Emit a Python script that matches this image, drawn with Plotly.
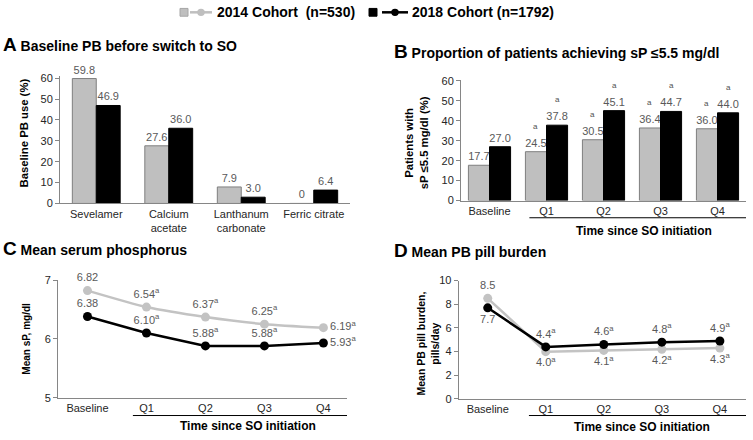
import plotly.graph_objects as go

# ---------------- data ----------------
cohorts = ["2014 Cohort  (n=530)", "2018 Cohort (n=1792)"]

a_categories = ["Sevelamer", "Calcium<br>acetate", "Lanthanum<br>carbonate", "Ferric citrate"]
a_2014 = [59.8, 27.6, 7.9, 0]
a_2018 = [46.9, 36.0, 3.0, 6.4]
a_labels_2014 = ["59.8", "27.6", "7.9", "0"]
a_labels_2018 = ["46.9", "36.0", "3.0", "6.4"]

time_categories = ["Baseline", "Q1", "Q2", "Q3", "Q4"]
b_2014 = [17.7, 24.5, 30.5, 36.4, 36.0]
b_2018 = [27.0, 37.8, 45.1, 44.7, 44.0]
b_sig_2014 = [False, True, True, True, True]
b_sig_2018 = [False, True, True, True, True]

c_2014 = [6.82, 6.54, 6.37, 6.25, 6.19]
c_2018 = [6.38, 6.10, 5.88, 5.88, 5.93]
c_sig = [False, True, True, True, True]

d_2014 = [8.5, 4.0, 4.1, 4.2, 4.3]
d_2018 = [7.7, 4.4, 4.6, 4.8, 4.9]
d_sig = [False, True, True, True, True]

# ---------------- style ----------------
FONT = "Liberation Sans, Arial, sans-serif"
GRAY = "#bfbfbf"
GRAY_EDGE = "#7f7f7f"
LINE_GRAY = "#c3c3c3"
LBL = "#595959"
AX = "#868686"
W, H = 753, 440


def px_x(v):
    return v / W


def px_y(v):
    return 1 - v / H


def line_text(vals, sig, fmt):
    return [fmt.format(v) + ("<sup>a</sup>" if s else "") for v, s in zip(vals, sig)]


fig = go.Figure()

# Panel A bars
fig.add_trace(go.Bar(x=a_categories, y=a_2014, xaxis="x", yaxis="y",
                     marker=dict(color=GRAY, line=dict(color=GRAY_EDGE, width=1)),
                     width=0.33, offset=-0.33, text=a_labels_2014, textposition="outside",
                     constraintext="none",
                     textfont=dict(color=LBL, size=11, family=FONT), cliponaxis=False,
                     name=cohorts[0], showlegend=False))
fig.add_trace(go.Bar(x=a_categories, y=a_2018, xaxis="x", yaxis="y",
                     marker=dict(color="#000000", line=dict(color="#000000", width=1)),
                     width=0.33, offset=0.0, text=a_labels_2018, textposition="outside",
                     constraintext="none",
                     textfont=dict(color=LBL, size=11, family=FONT), cliponaxis=False,
                     name=cohorts[1], showlegend=False))

# Panel B bars
B_W = 0.37
fig.add_trace(go.Bar(x=time_categories, y=b_2014, xaxis="x2", yaxis="y2",
                     marker=dict(color=GRAY, line=dict(color=GRAY_EDGE, width=1)),
                     width=B_W, offset=-B_W, text=[f"{v:.1f}" for v in b_2014],
                     textposition="outside", constraintext="none",
                     textfont=dict(color=LBL, size=11, family=FONT),
                     cliponaxis=False, name=cohorts[0], showlegend=False))
fig.add_trace(go.Bar(x=time_categories, y=b_2018, xaxis="x2", yaxis="y2",
                     marker=dict(color="#000000", line=dict(color="#000000", width=1)),
                     width=B_W, offset=0.0, text=[f"{v:.1f}" for v in b_2018],
                     textposition="outside", constraintext="none",
                     textfont=dict(color=LBL, size=11, family=FONT),
                     cliponaxis=False, name=cohorts[1], showlegend=False))

# Panel C lines
fig.add_trace(go.Scatter(x=time_categories, y=c_2014, xaxis="x3", yaxis="y3",
                         mode="lines+markers+text",
                         line=dict(color=LINE_GRAY, width=2.5, shape="spline", smoothing=0.6),
                         marker=dict(color=LINE_GRAY, size=9),
                         text=line_text(c_2014, c_sig, "{:.2f}"),
                         textposition=["top center"] * 4 + ["middle right"],
                         textfont=dict(color=LBL, size=11, family=FONT), cliponaxis=False,
                         name=cohorts[0], showlegend=False))
fig.add_trace(go.Scatter(x=time_categories, y=c_2018, xaxis="x3", yaxis="y3",
                         mode="lines+markers+text",
                         line=dict(color="#000000", width=2.5),
                         marker=dict(color="#000000", size=9),
                         text=line_text(c_2018, c_sig, "{:.2f}"),
                         textposition=["top center"] * 4 + ["middle right"],
                         textfont=dict(color=LBL, size=11, family=FONT), cliponaxis=False,
                         name=cohorts[1], showlegend=False))

# Panel D lines
fig.add_trace(go.Scatter(x=time_categories, y=d_2014, xaxis="x4", yaxis="y4",
                         mode="lines+markers+text",
                         line=dict(color=LINE_GRAY, width=2.5),
                         marker=dict(color=LINE_GRAY, size=9),
                         text=line_text(d_2014, d_sig, "{:.1f}"),
                         textposition=["top center"] + ["bottom center"] * 4,
                         textfont=dict(color=LBL, size=11, family=FONT), cliponaxis=False,
                         name=cohorts[0], showlegend=False))
fig.add_trace(go.Scatter(x=time_categories, y=d_2018, xaxis="x4", yaxis="y4",
                         mode="lines+markers+text",
                         line=dict(color="#000000", width=2.5),
                         marker=dict(color="#000000", size=9),
                         text=line_text(d_2018, d_sig, "{:.1f}"),
                         textposition=["bottom center"] + ["top center"] * 4,
                         textfont=dict(color=LBL, size=11, family=FONT), cliponaxis=False,
                         name=cohorts[1], showlegend=False))

tickfont = dict(family=FONT, size=11, color="#262626")
xcommon = dict(type="category", showgrid=False, zeroline=False, showline=True, linecolor=AX,
               linewidth=1, ticks="", tickfont=tickfont, fixedrange=True)
ycommon = dict(showgrid=False, zeroline=False, showline=True, linecolor=AX, linewidth=1,
               ticks="outside", ticklen=4, tickcolor=AX, tickfont=tickfont, fixedrange=True)

fig.update_layout(
    width=W, height=H, autosize=False,
    margin=dict(l=0, r=0, t=0, b=0),
    paper_bgcolor="white", plot_bgcolor="white",
    barmode="overlay",
    showlegend=False,
    font=dict(family=FONT, color="#262626"),
    xaxis=dict(xcommon, domain=[px_x(60), px_x(350)], anchor="y",
               categoryorder="array", categoryarray=a_categories, range=[-0.5, 3.5]),
    yaxis=dict(ycommon, domain=[px_y(203), px_y(72)], anchor="x", range=[0, 61],
               tickvals=[0, 10, 20, 30, 40, 50, 60]),
    xaxis2=dict(xcommon, domain=[px_x(461), px_x(746)], anchor="y2",
                categoryorder="array", categoryarray=time_categories, range=[-0.5, 4.5]),
    yaxis2=dict(ycommon, domain=[px_y(200), px_y(76)], anchor="x2", range=[0, 60.5],
                tickvals=[0, 10, 20, 30, 40, 50, 60]),
    xaxis3=dict(xcommon, domain=[px_x(58), px_x(347)], anchor="y3",
                categoryorder="array", categoryarray=time_categories, range=[-0.5, 4.4]),
    yaxis3=dict(ycommon, domain=[px_y(402.7), px_y(281.7)], anchor="x3", range=[5, 7],
                tickvals=[5, 6, 7]),
    xaxis4=dict(xcommon, domain=[px_x(458.7), px_x(746)], anchor="y4",
                categoryorder="array", categoryarray=time_categories, range=[-0.5, 4.45]),
    yaxis4=dict(ycommon, domain=[px_y(404), px_y(282.3)], anchor="x4", range=[0, 10],
                tickvals=[0, 2, 4, 6, 8, 10]),
)

ann = []
shapes = []

# significance marks above panel B labels, anchored on the bar values
B_SHIFT = B_W / 2 * (285 / 5)  # half bar width in px
for cat, v, s in zip(time_categories, b_2014, b_sig_2014):
    if s:
        ann.append(dict(xref="x2", yref="y2", x=cat, y=v, xshift=-B_SHIFT, yshift=19,
                        yanchor="bottom", showarrow=False, text="a",
                        font=dict(family=FONT, size=8, color="#505050")))
for cat, v, s in zip(time_categories, b_2018, b_sig_2018):
    if s:
        ann.append(dict(xref="x2", yref="y2", x=cat, y=v, xshift=B_SHIFT, yshift=19,
                        yanchor="bottom", showarrow=False, text="a",
                        font=dict(family=FONT, size=8, color="#505050")))


def add_title(x, y, letter, text):
    ann.append(dict(xref="paper", yref="paper", x=px_x(x), y=px_y(y), xanchor="left",
                    yanchor="middle", showarrow=False,
                    text="<b><span style='font-size:19px'>" + letter + "</span> " + text + "</b>",
                    font=dict(family=FONT, size=14, color="#000000")))


add_title(1, 40, "A", "Baseline PB before switch to SO")
add_title(392, 47, "B", "Proportion of patients achieving sP ≤5.5 mg/dl")
add_title(1, 249, "C", "Mean serum phosphorus")
add_title(392, 251, "D", "Mean PB pill burden")


def add_ytitle(x, y, text, size):
    ann.append(dict(xref="paper", yref="paper", x=px_x(x), y=px_y(y), xanchor="center",
                    yanchor="middle", showarrow=False, textangle=-90, text="<b>" + text + "</b>",
                    font=dict(family=FONT, size=size, color="#000000")))


add_ytitle(24, 131, "Baseline PB use (%)", 11.3)
add_ytitle(416, 140, "Patients with<br>sP ≤5.5 mg/dl (%)", 11.3)
add_ytitle(27, 342, "Mean sP, mg/dl", 10)
add_ytitle(428, 347, "Mean PB pill burden,<br>pills/day", 10.5)


def add_xtitle(x, y, text):
    ann.append(dict(xref="paper", yref="paper", x=px_x(x), y=px_y(y), xanchor="center",
                    yanchor="middle", showarrow=False, text="<b>" + text + "</b>",
                    font=dict(family=FONT, size=12, color="#000000")))


add_xtitle(644, 231, "Time since SO initiation")
add_xtitle(248, 432, "Time since SO initiation")
add_xtitle(642, 433, "Time since SO initiation")

shapes += [
    dict(type="line", xref="x2", yref="paper", x0=0.7, x1=4.5, y0=px_y(217.7), y1=px_y(217.7),
         line=dict(color="#000000", width=1)),
    dict(type="line", xref="x3", yref="paper", x0=0.77, x1=4.5, y0=px_y(421), y1=px_y(421),
         line=dict(color="#000000", width=1)),
    dict(type="line", xref="x4", yref="paper", x0=0.71, x1=4.45, y0=px_y(421), y1=px_y(421),
         line=dict(color="#000000", width=1)),
]

# legend (drawn as a key: square for bars, line with dot for lines)
LEG_Y = 6.5


def legend_key(sq_x, ln_x0, ln_x1, fill, edge, text_x, text):
    shapes.append(dict(type="rect", xref="paper", yref="paper",
                       x0=px_x(sq_x), x1=px_x(sq_x + 8), y0=px_y(LEG_Y - 4), y1=px_y(LEG_Y + 4),
                       fillcolor=fill, line=dict(color=edge, width=1)))
    shapes.append(dict(type="line", xref="paper", yref="paper",
                       x0=px_x(ln_x0), x1=px_x(ln_x1), y0=px_y(LEG_Y), y1=px_y(LEG_Y),
                       line=dict(color=fill, width=2.5)))
    cx = (ln_x0 + ln_x1) / 2
    shapes.append(dict(type="circle", xref="paper", yref="paper",
                       x0=px_x(cx - 3.8), x1=px_x(cx + 3.8), y0=px_y(LEG_Y - 3.8),
                       y1=px_y(LEG_Y + 3.8), fillcolor=fill, line=dict(color=fill, width=0)))
    ann.append(dict(xref="paper", yref="paper", x=px_x(text_x), y=px_y(LEG_Y), xanchor="left",
                    yanchor="middle", showarrow=False, text="<b>" + text + "</b>",
                    font=dict(family=FONT, size=14, color="#000000")))


legend_key(180, 190, 212, GRAY, "#a6a6a6", 215, cohorts[0])
legend_key(369, 382, 408, "#000000", "#000000", 410, cohorts[1])

fig.update_layout(annotations=ann, shapes=shapes)
fig.write_html("out.html", config={"displayModeBar": False, "staticPlot": True},
               post_script="document.body.style.margin='0';document.body.style.padding='0';")
